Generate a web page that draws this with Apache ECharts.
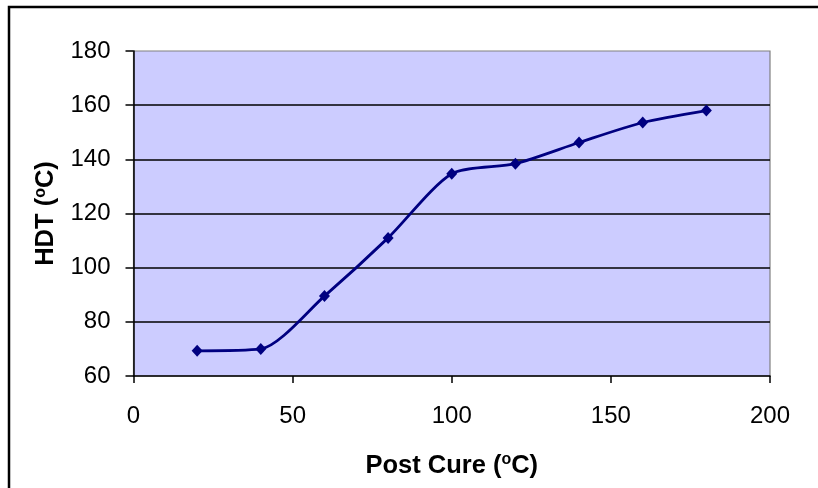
<!DOCTYPE html>
<html>
<head>
<meta charset="utf-8">
<script src="https://cdn.jsdelivr.net/npm/echarts@6/dist/echarts.min.js"></script>
<style>
  html, body { margin: 0; padding: 0; background: #ffffff; }
  #chart { width: 818px; height: 488px; }
</style>
</head>
<body>
<div id="chart"></div>
<script>
const postCure = [20, 40, 60, 80, 100, 120, 140, 160, 180];
const hdt = [69.3, 70, 89.5, 111, 134.7, 138.4, 146.2, 153.6, 158];
const xTicks = [0, 50, 100, 150, 200];
const yTicks = [60, 80, 100, 120, 140, 160, 180];

const chart = echarts.init(document.getElementById('chart'), null, { renderer: 'canvas' });
const font = 'Liberation Sans, Arial, sans-serif';
const supStyle = { fontFamily: font, fontSize: 16, fontWeight: 'bold', color: '#000', verticalAlign: 'top', padding: [0, 0, 11, 0] };

chart.setOption({
  animation: false,
  backgroundColor: '#ffffff',
  graphic: [{
    type: 'rect',
    z: -10,
    shape: { x: 9, y: 7, width: 900, height: 600 },
    style: { fill: 'none', stroke: '#000000', lineWidth: 2.5 }
  }],
  grid: {
    left: 133.5, right: 48, top: 51, bottom: 112,
    show: true, backgroundColor: '#CCCCFF', borderColor: '#808080', borderWidth: 1.2
  },
  xAxis: {
    type: 'value',
    min: xTicks[0], max: xTicks[xTicks.length - 1], interval: 50,
    name: 'Post Cure ({sup|o}C)',
    nameLocation: 'middle', nameGap: 76,
    nameTextStyle: { fontFamily: font, fontSize: 25.5, fontWeight: 'bold', color: '#000', rich: { sup: supStyle } },
    axisLine: { show: true, onZero: false, lineStyle: { color: '#000', width: 1.5 } },
    axisTick: { show: true, inside: false, length: 7, lineStyle: { color: '#000', width: 1.5 } },
    axisLabel: { fontFamily: font, fontSize: 24, color: '#000', margin: 28 },
    splitLine: { show: false }
  },
  yAxis: {
    type: 'value',
    min: yTicks[0], max: yTicks[yTicks.length - 1], interval: 20,
    name: 'HDT ({sup|o}C)',
    nameLocation: 'middle', nameGap: 74, nameRotate: 90,
    nameTextStyle: { fontFamily: font, fontSize: 25.5, fontWeight: 'bold', color: '#000', rich: { sup: supStyle } },
    axisLine: { show: true, onZero: false, lineStyle: { color: '#000', width: 1.5 } },
    axisTick: { show: true, inside: false, length: 8, lineStyle: { color: '#000', width: 1.5 } },
    axisLabel: { fontFamily: font, fontSize: 24, color: '#000', margin: 23 },
    splitLine: { show: true, showMinLine: false, showMaxLine: false, lineStyle: { color: '#000', width: 1.5 } }
  },
  series: [{
    type: 'line',
    data: postCure.map((x, i) => [x, hdt[i]]),
    smooth: 0.25,
    symbol: 'diamond',
    symbolSize: [11, 12],
    lineStyle: { color: '#000080', width: 2.8 },
    itemStyle: { color: '#000080' },
    z: 5
  }]
});
</script>
</body>
</html>
